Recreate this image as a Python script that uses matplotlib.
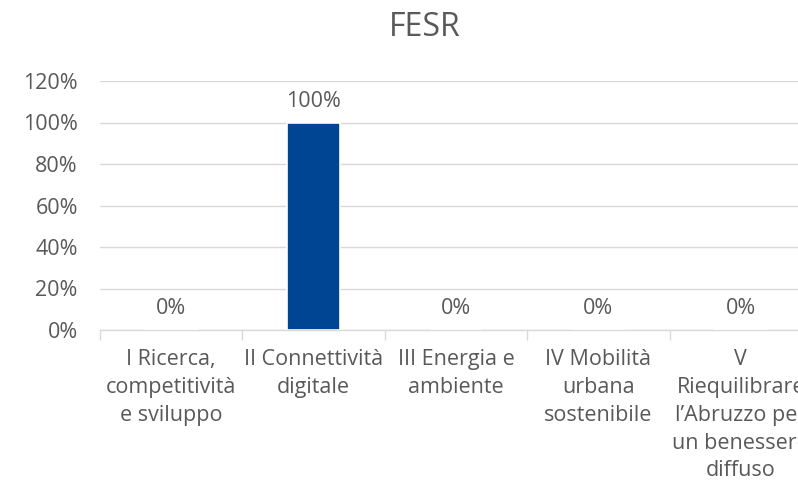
import matplotlib
matplotlib.use("Agg")
import matplotlib.pyplot as plt
from matplotlib.ticker import FuncFormatter, FixedLocator

plt.rcParams['font.family'] = ['Open Sans', 'DejaVu Sans']

title = "FESR"
categories = ["I Ricerca,\ncompetitività\ne sviluppo",
              "II Connettività\ndigitale",
              "III Energia e\nambiente",
              "IV Mobilità\nurbana\nsostenibile",
              "V\nRiequilibrare\nl’Abruzzo per\nun benessere\ndiffuso"]
values = [0.0, 0.996, 0.0, 0.0, 0.0]
yticks = [0, 0.2, 0.4, 0.6, 0.8, 1.0, 1.2]

text_col = "#595959"
grid_col = "#d9d9d9"
bar_col = "#004593"
fs = 15.5

fig = plt.figure(figsize=(7.98, 4.88), dpi=100)
ax = fig.add_axes([100/798, 1-330/488, 712/798, (330-81)/488])

x = list(range(len(categories)))
bars = ax.bar(x, values, width=0.37, color=bar_col, edgecolor="white", linewidth=1.2, zorder=3)
ax.set_xlim(-0.5, len(categories)-0.5)
ax.set_ylim(0, 1.2)
ax.set_yticks(yticks)
ax.yaxis.set_major_formatter(FuncFormatter(lambda v, p: f"{v*100:.0f}%"))
ax.tick_params(axis='y', length=0, pad=16, labelsize=fs, labelcolor=text_col)
ax.grid(axis='y', color=grid_col, linewidth=1, zorder=0)

ax.set_xticks(x)
ax.set_xticklabels(categories, fontsize=fs, color=text_col, linespacing=1.42, va='top')
ax.tick_params(axis='x', which='major', length=0, pad=14)
ax.xaxis.set_minor_locator(FixedLocator([i - 0.5 for i in range(len(categories)+1)]))
ax.tick_params(axis='x', which='minor', length=7, color=grid_col, width=1)

for s in ['top', 'right', 'left']:
    ax.spines[s].set_visible(False)
ax.spines['bottom'].set_color(grid_col)
ax.spines['bottom'].set_linewidth(1)

for xi, v in zip(x, values):
    ax.annotate(f"{v*100:.0f}%", (xi, v), xytext=(0, 8), textcoords='offset points',
                ha='center', va='bottom', fontsize=fs, color=text_col)

fig.text(425/798, 1-27/488, title, ha='center', va='center', fontsize=23, color=text_col)

fig.savefig("out.png", dpi=100)
